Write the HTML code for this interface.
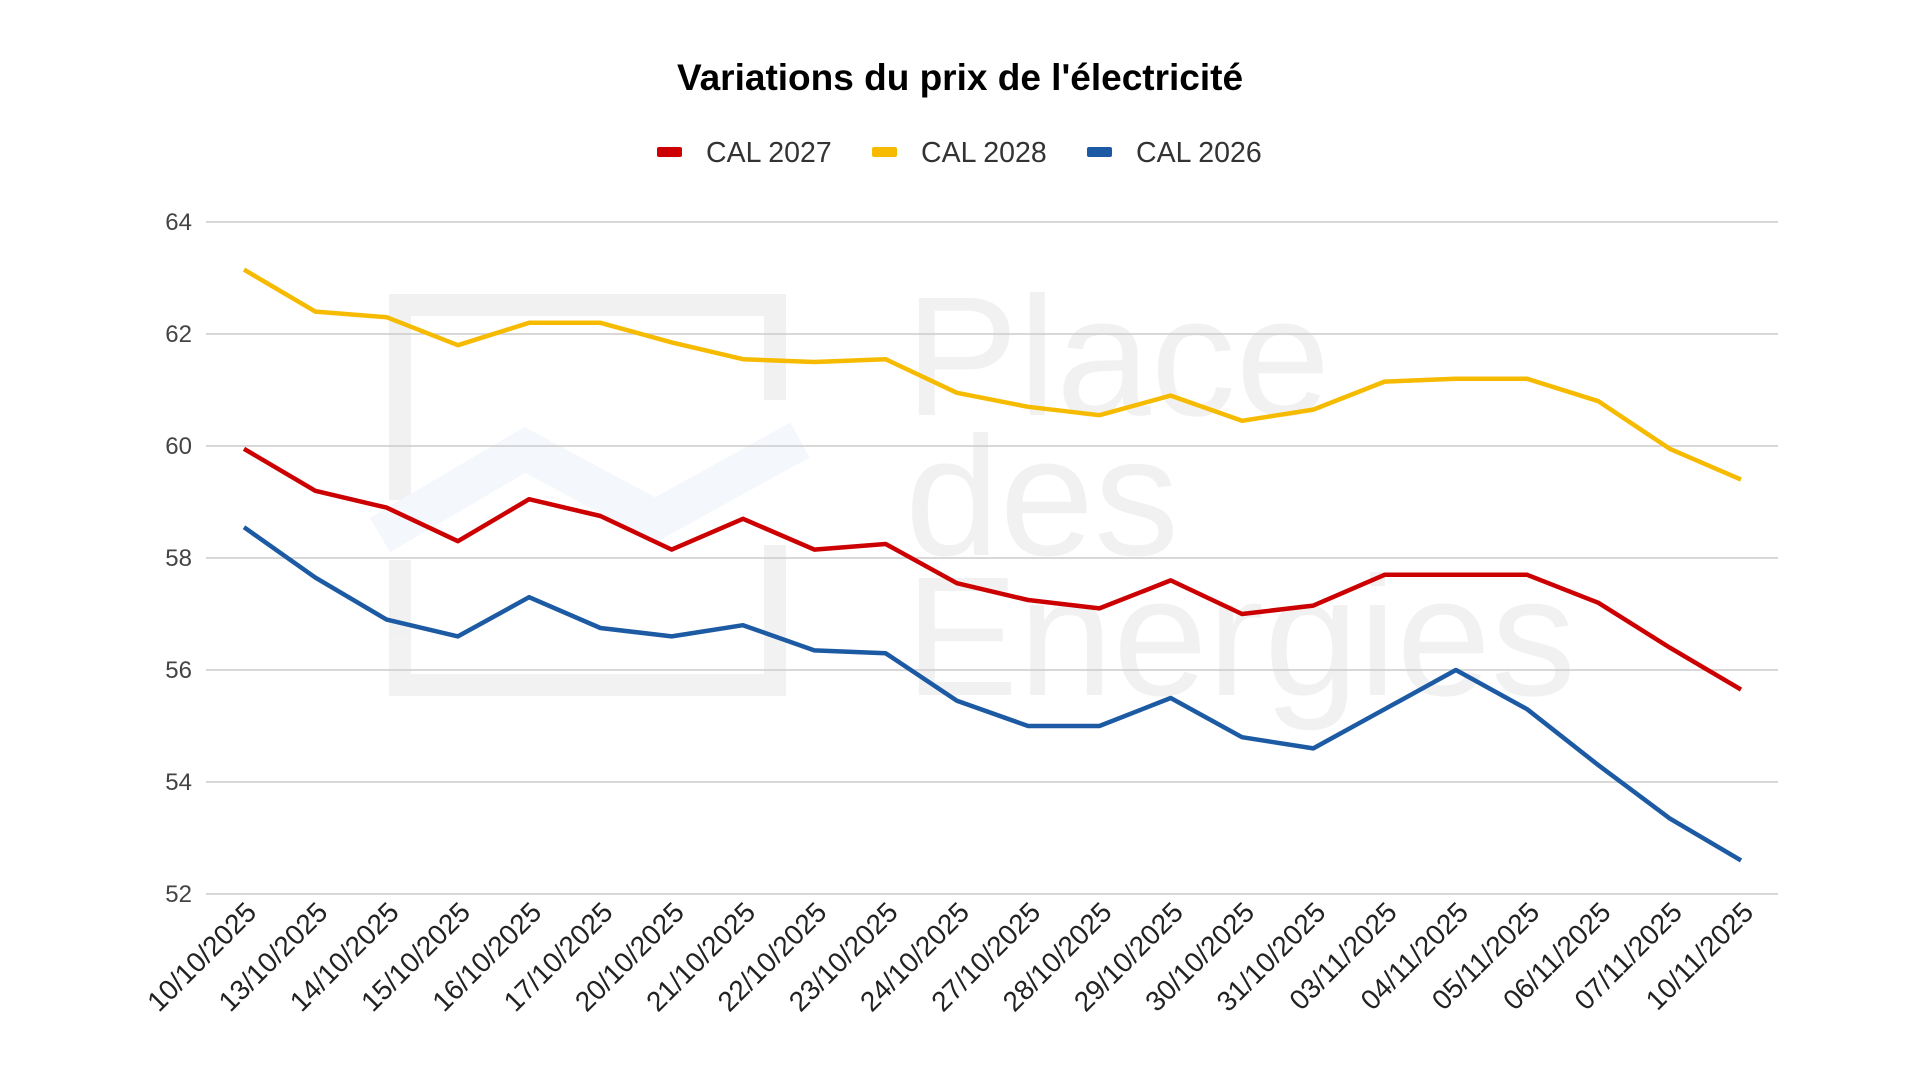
<!DOCTYPE html>
<html><head><meta charset="utf-8"><style>
html,body{margin:0;padding:0;background:#fff;width:1920px;height:1080px;overflow:hidden}
svg{display:block;font-family:"Liberation Sans",Arial,sans-serif}
</style></head><body>
<svg id="chart" width="1920" height="1080" viewBox="0 0 1920 1080">
<g opacity="0.05">
<path d="M400 500 V305 H775 V400 M400 560 V685 H775 V545" fill="none" stroke="#000" stroke-width="22"/>
<path d="M380 535 L525 450 L655 520 L800 440" fill="none" stroke="#3a7bd5" stroke-width="40"/>
<text x="905" y="415" font-size="170" fill="#000">Place</text>
<text x="905" y="555" font-size="170" fill="#000">des</text>
<text x="905" y="695" font-size="170" fill="#000">Energies</text>
</g>
<text x="960" y="90" text-anchor="middle" font-size="37" font-weight="bold" fill="#000">Variations du prix de l'électricité</text>
<g id="legend"></g>
<g id="grid"></g>
<g id="series"></g>
<g id="xlabels"></g>
</svg>
<script>
const categories=["10/10/2025","13/10/2025","14/10/2025","15/10/2025","16/10/2025","17/10/2025","20/10/2025","21/10/2025","22/10/2025","23/10/2025","24/10/2025","27/10/2025","28/10/2025","29/10/2025","30/10/2025","31/10/2025","03/11/2025","04/11/2025","05/11/2025","06/11/2025","07/11/2025","10/11/2025"];
const cal2027=[59.95,59.2,58.9,58.3,59.05,58.75,58.15,58.7,58.15,58.25,57.55,57.25,57.1,57.6,57.0,57.15,57.7,57.7,57.7,57.2,56.4,55.65];
const cal2028=[63.15,62.4,62.3,61.8,62.2,62.2,61.85,61.55,61.5,61.55,60.95,60.7,60.55,60.9,60.45,60.65,61.15,61.2,61.2,60.8,59.95,59.4];
const cal2026=[58.55,57.65,56.9,56.6,57.3,56.75,56.6,56.8,56.35,56.3,55.45,55.0,55.0,55.5,54.8,54.6,55.3,56.0,55.3,54.3,53.35,52.6];
const yTicks=[52,54,56,58,60,62,64];
const seriesNames=["CAL 2027","CAL 2028","CAL 2026"];
const NS="http://www.w3.org/2000/svg";
const x0=244,x1=1741,yTop=222,yBot=894,yMin=52,yMax=64;
const xs=i=>x0+(x1-x0)*i/(categories.length-1);
const ys=v=>yBot-(v-yMin)/(yMax-yMin)*(yBot-yTop);
function mk(t,a,p){const e=document.createElementNS(NS,t);for(const k in a)e.setAttribute(k,a[k]);p.appendChild(e);return e;}
const grid=document.getElementById('grid');
yTicks.forEach(t=>{
 const l=mk('line',{x1:206,x2:1778,y1:ys(t),y2:ys(t),stroke:'#cccccc','stroke-width':1.5},grid);
 
 
 const tx=mk('text',{x:192,y:ys(t)+8,'text-anchor':'end','font-size':24,fill:'#444'},grid);
 tx.textContent=t;
 
 
});
const xl=document.getElementById('xlabels');
categories.forEach((c,i)=>{
 const px=xs(i)+14,py=914;
 const t=mk('text',{x:px,y:py,'text-anchor':'end','font-size':28,fill:'#222',transform:`rotate(-45 ${px} ${py})`},xl);
 t.textContent=c;
 
 
});
const colors=["#cc0000","#f6bb00","#1c5aa3"];
const data=[cal2027,cal2028,cal2026];
const sg=document.getElementById('series');
[1,0,2].forEach(k=>{
 const d=data[k].map((v,i)=>(i?'L':'M')+xs(i).toFixed(1)+' '+ys(v).toFixed(1)).join(' ');
 const p=mk('path',{d:d,fill:'none',stroke:colors[k],'stroke-width':4.5,'stroke-linejoin':'round'},sg);
 
 
});
const lg=document.getElementById('legend');
const lx=[657,872,1087];
seriesNames.forEach((n,k)=>{
 const r=mk('rect',{x:lx[k],y:147,width:25,height:10,rx:2,fill:colors[k]},lg);
 
 
 const t=mk('text',{x:lx[k]+49,y:162,'font-size':28.5,fill:'#333'},lg);
 t.textContent=n;
 
 
});
</script>
</body></html>
